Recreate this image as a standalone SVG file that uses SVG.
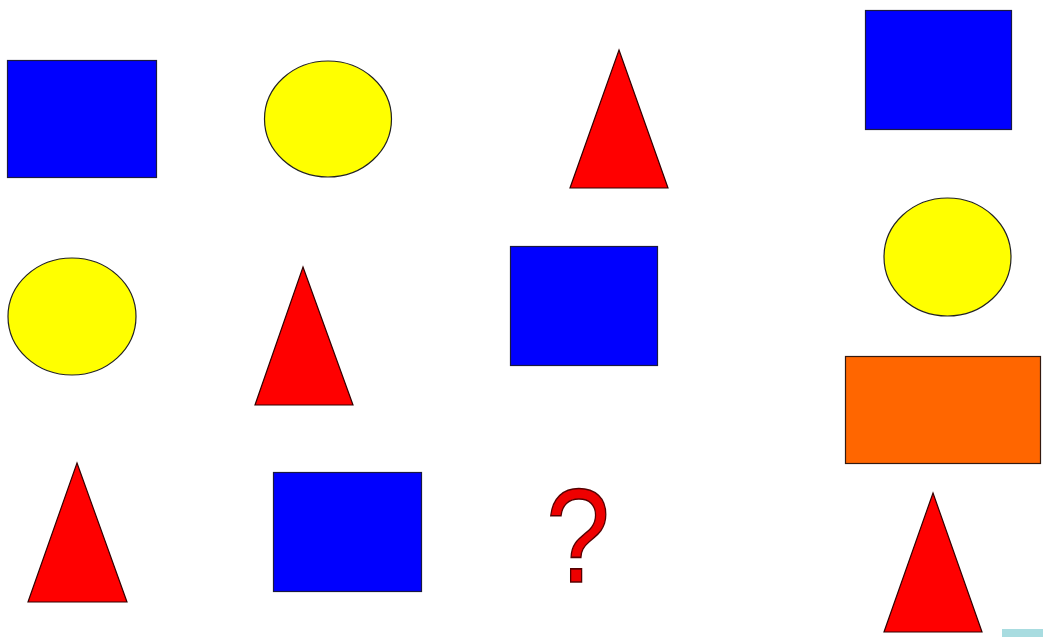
<svg xmlns="http://www.w3.org/2000/svg" width="1043" height="637" viewBox="0 0 1043 637">
<style>
.sq{fill:#0000ff;stroke:#1a1a40;stroke-width:1.2}
.ci{fill:#ffff00;stroke:#222;stroke-width:1.2}
.tr{fill:#ff0000;stroke:#300;stroke-width:1.2}
.or{fill:#ff6600;stroke:#331a10;stroke-width:1.2}
.q{font-family:"Liberation Sans",Arial,sans-serif;font-size:134px;fill:#ee0000;stroke:#500;stroke-width:1.5}
</style>
<rect width="1043" height="637" fill="#ffffff"/>
<g id="r1c1"><rect class="sq" x="7.5" y="60.5" width="149" height="117"/></g>
<g id="r1c2"><ellipse class="ci" cx="328" cy="119" rx="63.5" ry="58"/></g>
<g id="r1c3"><polygon class="tr" points="619,50 668,188 570,188"/></g>
<g id="r1c4"><rect class="sq" x="865.5" y="10.5" width="146" height="119"/></g>
<g id="r2c1"><ellipse class="ci" cx="72" cy="316.5" rx="64" ry="58.5"/></g>
<g id="r2c2"><polygon class="tr" points="303,267 353,405 255,405"/></g>
<g id="r2c3"><rect class="sq" x="510.5" y="246.5" width="147" height="119"/></g>
<g id="r2c4"><ellipse class="ci" cx="947.5" cy="257" rx="63.5" ry="59"/></g>
<g id="r2c5"><rect class="or" x="845.5" y="356.5" width="195" height="107"/></g>
<g id="r3c1"><polygon class="tr" points="77,463 127,602 28,602"/></g>
<g id="r3c2"><rect class="sq" x="273.5" y="472.5" width="148" height="119"/></g>
<g id="r3c3"><text class="q" transform="translate(578,582) scale(0.86,1)" x="0" y="0" text-anchor="middle">?</text></g>
<g id="r3c4"><polygon class="tr" points="933,493 982,632 884,632"/></g>
<rect x="1002" y="629" width="41" height="8" fill="#a8dce0"/>
<g id="connectors"/>
</svg>
